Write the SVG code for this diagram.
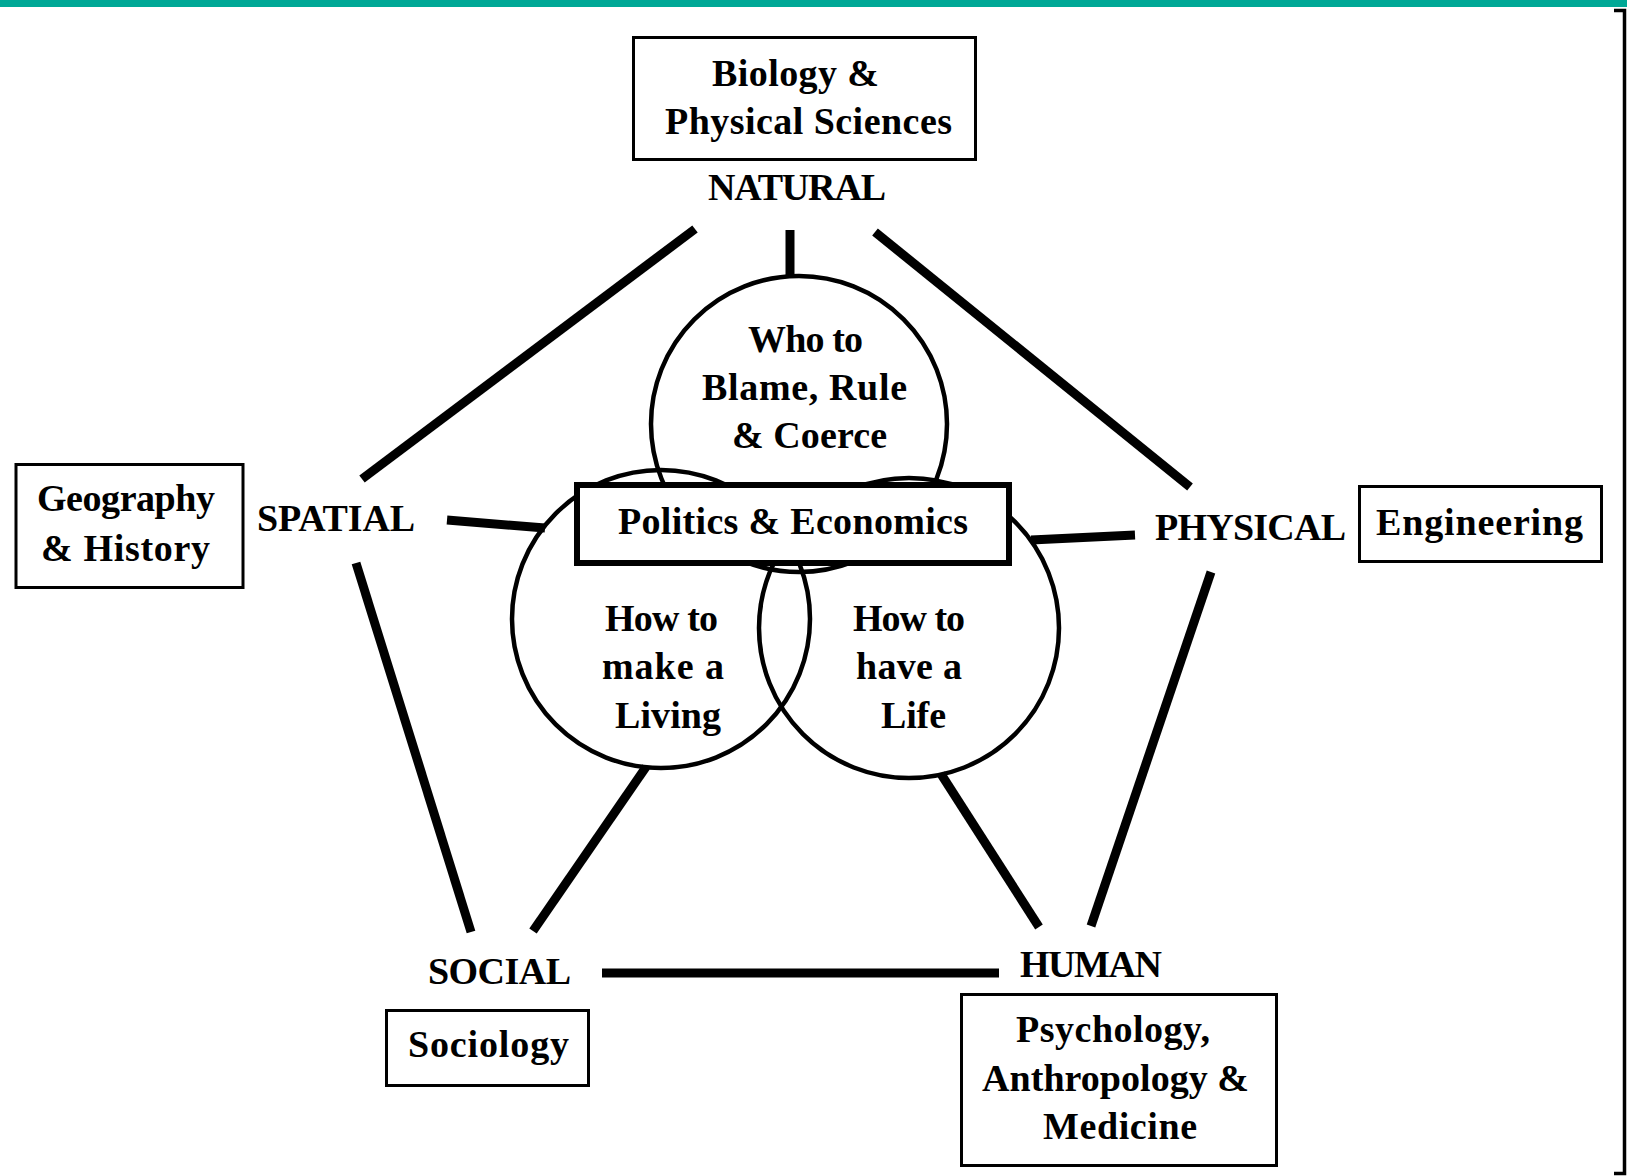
<svg xmlns="http://www.w3.org/2000/svg" width="1627" height="1176" viewBox="0 0 1627 1176">
<style>
.t{font-family:"Liberation Serif","Times New Roman",serif;font-weight:bold;font-size:38px;fill:#000}
.box{fill:#fff;stroke:#000;stroke-width:3}
.circ{fill:none;stroke:#000;stroke-width:4.5}
.ln{stroke:#000;stroke-width:9;stroke-linecap:butt;fill:none}
</style>
<rect x="0" y="0" width="1627" height="1176" fill="#fff"/>
<rect x="0" y="0" width="1627" height="7" fill="#00a896"/>
<g id="frame">
<path d="M1614 10.5 H1624.5 V1173.5 H1614" fill="none" stroke="#000" stroke-width="3.5"/>
</g>
<g id="connectors">
<line class="ln" x1="695" y1="229" x2="362" y2="479"/>
<line class="ln" x1="790" y1="230" x2="790" y2="276"/>
<line class="ln" x1="875" y1="232" x2="1190" y2="487"/>
<line class="ln" x1="447" y1="520" x2="545" y2="528"/>
<line class="ln" x1="1031" y1="540" x2="1135" y2="535"/>
<line class="ln" x1="356" y1="563" x2="471" y2="932"/>
<line class="ln" x1="646" y1="767" x2="533" y2="931"/>
<line class="ln" x1="941" y1="774" x2="1039" y2="927"/>
<line class="ln" x1="1211" y1="572" x2="1091" y2="926"/>
<line class="ln" x1="602" y1="973" x2="999" y2="973"/>
</g>
<g id="circle-rule">
<circle class="circ" cx="799" cy="424" r="148"/>
<text class="t" x="748" y="352" textLength="115" lengthAdjust="spacing">Who to</text>
<text class="t" x="702" y="400" textLength="205" lengthAdjust="spacing">Blame, Rule</text>
<text class="t" x="732" y="448" textLength="155" lengthAdjust="spacing">&amp; Coerce</text>
</g>
<g id="circle-living">
<circle class="circ" cx="661" cy="619" r="149"/>
<text class="t" x="605" y="631" textLength="113" lengthAdjust="spacing">How to</text>
<text class="t" x="602" y="679" textLength="122" lengthAdjust="spacing">make a</text>
<text class="t" x="615" y="728" textLength="106" lengthAdjust="spacing">Living</text>
</g>
<g id="circle-life">
<circle class="circ" cx="909" cy="628" r="150"/>
<text class="t" x="853" y="631" textLength="112" lengthAdjust="spacing">How to</text>
<text class="t" x="856" y="679" textLength="106" lengthAdjust="spacing">have a</text>
<text class="t" x="881" y="728" textLength="65" lengthAdjust="spacing">Life</text>
</g>
<g id="politics">
<rect x="577" y="485" width="432" height="78" fill="#fff" stroke="#000" stroke-width="6"/>
<text class="t" x="618" y="534" textLength="350" lengthAdjust="spacing">Politics &amp; Economics</text>
</g>
<g id="biology">
<rect class="box" x="633.5" y="37.5" width="342" height="122"/>
<text class="t" x="712" y="86" textLength="167" lengthAdjust="spacing">Biology &amp;</text>
<text class="t" x="665" y="134" textLength="287" lengthAdjust="spacing">Physical Sciences</text>
</g>
<g id="natural"><text class="t" x="708" y="200" textLength="178" lengthAdjust="spacing">NATURAL</text></g>
<g id="geography">
<rect class="box" x="16" y="464.5" width="227" height="123"/>
<text class="t" x="37" y="511" textLength="178" lengthAdjust="spacing">Geography</text>
<text class="t" x="41" y="561" textLength="169" lengthAdjust="spacing">&amp; History</text>
</g>
<g id="spatial"><text class="t" x="257" y="531" textLength="158" lengthAdjust="spacing">SPATIAL</text></g>
<g id="physical"><text class="t" x="1155" y="540" textLength="191" lengthAdjust="spacing">PHYSICAL</text></g>
<g id="engineering">
<rect class="box" x="1359.5" y="486.5" width="242" height="75"/>
<text class="t" x="1376" y="535" textLength="207" lengthAdjust="spacing">Engineering</text>
</g>
<g id="social"><text class="t" x="428" y="984" textLength="143" lengthAdjust="spacing">SOCIAL</text></g>
<g id="human"><text class="t" x="1020" y="977" textLength="142" lengthAdjust="spacing">HUMAN</text></g>
<g id="sociology">
<rect class="box" x="386.5" y="1010.5" width="202" height="75"/>
<text class="t" x="408" y="1057" textLength="161" lengthAdjust="spacing">Sociology</text>
</g>
<g id="psychology">
<rect class="box" x="961.5" y="994.5" width="315" height="171"/>
<text class="t" x="1016" y="1042" textLength="194" lengthAdjust="spacing">Psychology,</text>
<text class="t" x="982" y="1091" textLength="267" lengthAdjust="spacing">Anthropology &amp;</text>
<text class="t" x="1043" y="1139" textLength="154" lengthAdjust="spacing">Medicine</text>
</g>
</svg>
